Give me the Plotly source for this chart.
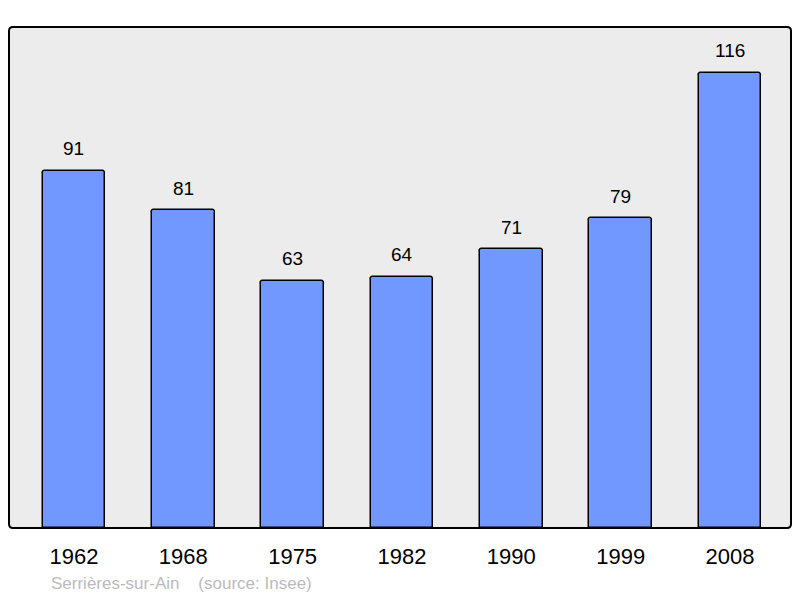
import plotly.graph_objects as go

years = ["1962", "1968", "1975", "1982", "1990", "1999", "2008"]
population = [91, 81, 63, 64, 71, 79, 116]
title_text = "Serrières-sur-Ain    (source: Insee)"

W, H = 800, 598
L, R, T, B = 9, 9, 27, 70
pw, ph = W - L - R, H - T - B
FONT = "Liberation Sans, Arial, sans-serif"

fig = go.Figure()
fig.add_trace(go.Bar(
    x=list(range(len(years))), y=population,
    width=0.575,
    marker=dict(color="#7098ff", line=dict(color="#000000", width=1.5), cornerradius=3),
    hoverinfo="skip",
))

for i, v in enumerate(population):
    fig.add_annotation(x=i, y=v, text=str(v), showarrow=False, yanchor="middle",
                       yshift=22, font=dict(size=19, color="#000000", family=FONT))

# rounded border
rx, ry = 4 / pw, 4 / ph
path = (f"M {rx},0 L {1-rx},0 Q 1,0 1,{ry} L 1,{1-ry} Q 1,1 {1-rx},1 "
        f"L {rx},1 Q 0,1 0,{1-ry} L 0,{ry} Q 0,0 {rx},0 Z")
fig.add_shape(type="path", xref="paper", yref="paper", path=path,
              line=dict(color="#000000", width=2), layer="above")

fig.add_annotation(xref="paper", yref="paper", x=(49 - L) / pw, y=-55 / ph,
                   xanchor="left", yanchor="middle", showarrow=False, text=title_text,
                   font=dict(size=17, color="#bbbbbb", family=FONT))

fig.update_layout(
    width=W, height=H,
    margin=dict(l=L, r=R, t=T, b=B),
    paper_bgcolor="#ffffff", plot_bgcolor="#ececec",
    showlegend=False,
    bargap=0,
    xaxis=dict(range=[-0.594, 6.558], tickmode="array", tickvals=list(range(len(years))),
               ticktext=years, showgrid=False, zeroline=False, ticks="", showline=False,
               tickfont=dict(size=22, color="#000000", family=FONT),
               ticklabelstandoff=13),
    yaxis=dict(range=[0, 127.7], showticklabels=False, showgrid=False, zeroline=False,
               ticks="", showline=False),
)

fig.write_html(
    "out.html",
    config={"displayModeBar": False},
    post_script="document.body.style.margin='0';document.body.style.overflow='hidden';",
)
